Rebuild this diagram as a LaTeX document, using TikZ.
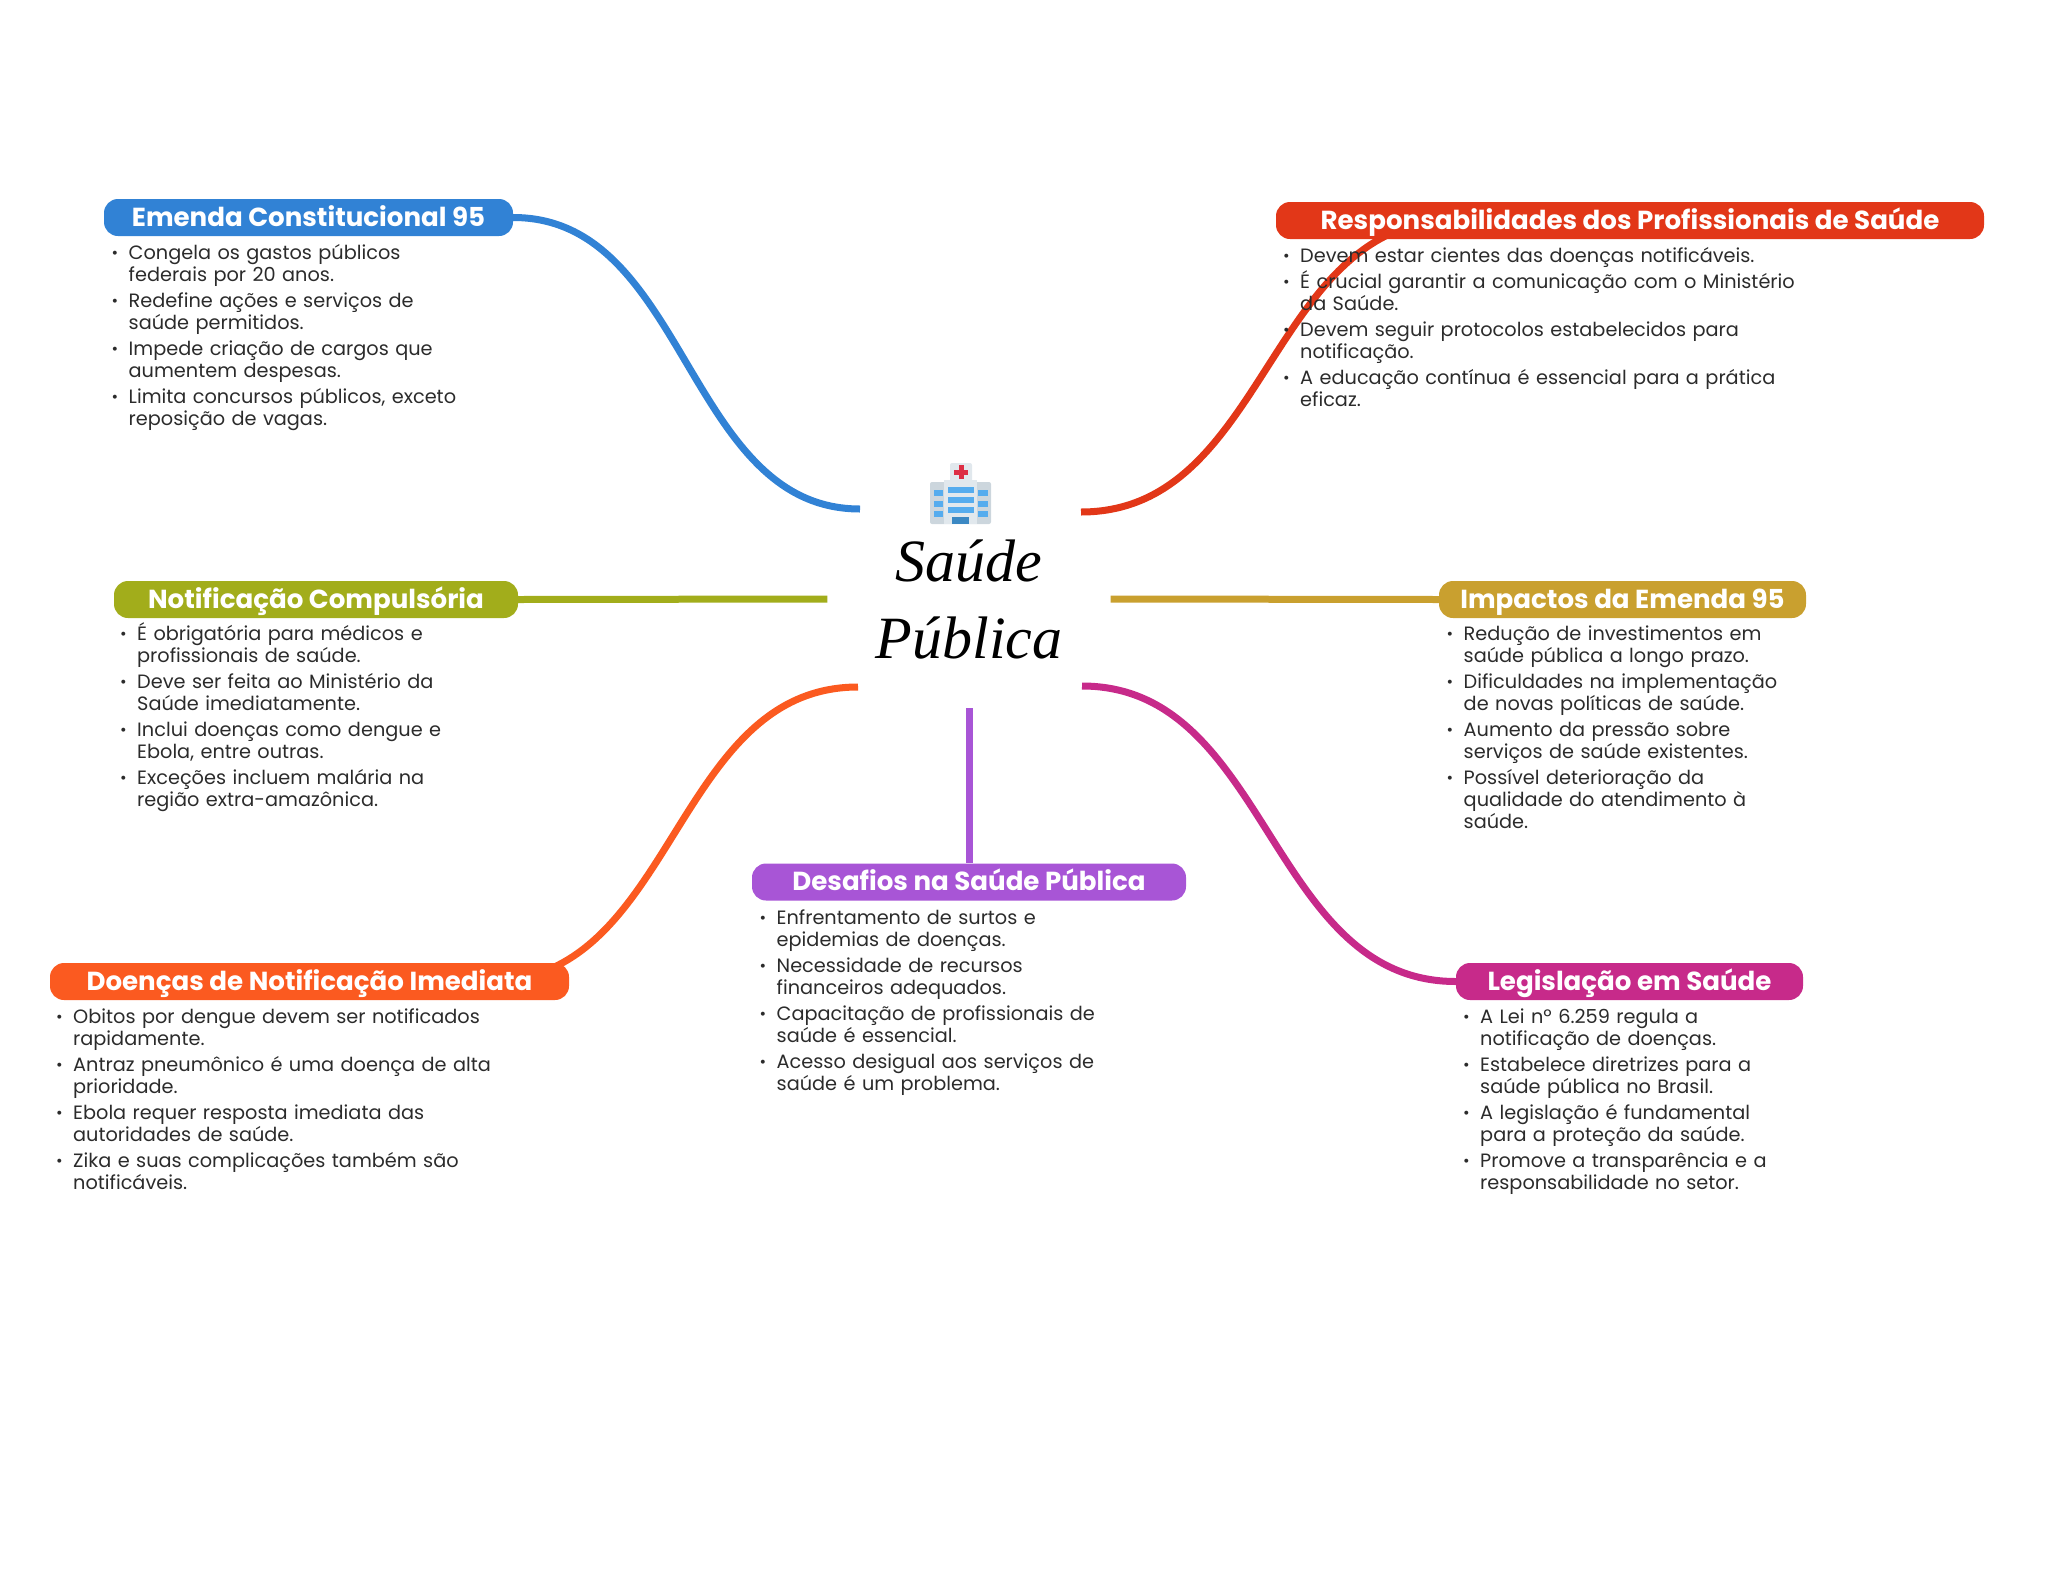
\documentclass[tikz,border=0pt]{standalone}
\usepackage{fontspec}
\setmainfont{Poppins}
\newfontfamily\titlefont{Liberation Serif}
\usetikzlibrary{backgrounds}

\definecolor{emendac}{HTML}{3182D5}
\definecolor{respc}{HTML}{E23718}
\definecolor{notifc}{HTML}{A2AD1B}
\definecolor{impactc}{HTML}{C9A02F}
\definecolor{desafc}{HTML}{A855D6}
\definecolor{doencc}{HTML}{FB5A20}
\definecolor{legisc}{HTML}{C72A8A}
\definecolor{bodyc}{HTML}{2B2B2B}
\definecolor{bldwing}{HTML}{CCD6DD}
\definecolor{bldmid}{HTML}{E1E8ED}
\definecolor{bldwin}{HTML}{55ACEE}
\definecolor{blddoor}{HTML}{3B88C3}
\definecolor{bldred}{HTML}{DD2E44}

\newcommand{\itm}[1]{\par\lineskiplimit=-20pt\relax\hangindent=17pt\hangafter=1\noindent\hbox to 17pt{\raisebox{1pt}{\fontsize{16}{16}\selectfont •}\hfil}\strut #1\par}

\tikzset{
  head/.style={fill=#1, rounded corners=14pt, text=white, inner sep=0pt, minimum height=37pt,
    text height=21pt, text depth=3.6pt, font=\fontsize{26.1}{30}\selectfont\bfseries},
  itemlist/.style={anchor=north west, inner sep=0pt, text width=620pt, text=bodyc,
    font=\fontsize{19.3}{21.6}\selectfont\setlength{\parskip}{4.8pt}},
  branch/.style={line width=7pt, #1},
  bld/.style={fill=#1, draw=none}
}

\begin{document}
\begin{tikzpicture}[x=1pt, y=-1pt]
  \useasboundingbox (0,0) rectangle (2048,1569);

  \node[minimum width=283pt, minimum height=218pt, inner sep=0pt, align=center,
    font=\fontsize{60}{77}\selectfont\titlefont\itshape] (root) at (969,599) {Saúde\\Pública};
  \coordinate (rootnw) at (860,509);
  \coordinate (rootne) at (1081,512);
  \coordinate (rootsw) at (858,687);
  \coordinate (rootse) at (1082,686);

  % hospital icon
  \fill[bld=bldmid, rounded corners=2pt] (950,463) rectangle (972,484);
  \fill[bld=bldred] (958.5,465) rectangle (963.5,479);
  \fill[bld=bldred] (954,469.5) rectangle (968,474.5);
  \fill[bld=bldwing, rounded corners=2pt] (930,482) rectangle (991,524);
  \fill[bld=bldmid] (944,480) rectangle (977,524);
  \foreach \y in {487,497,507} \fill[bld=bldwin] (948,\y) rectangle (974,\y+6);
  \foreach \y in {490,501,511} {
    \fill[bld=bldwin] (934,\y) rectangle (943,\y+6);
    \fill[bld=bldwin] (978,\y) rectangle (988,\y+6);
  }
  \fill[bld=blddoor] (952,517) rectangle (969,524);

  \node[head=emendac, minimum width=409pt] (emenda) at (308.5,217.5) {Emenda Constitucional 95};
  \node[head=respc, minimum width=708pt] (resp) at (1630,220.5) {Responsabilidades dos Profissionais de Saúde};
  \node[head=notifc, minimum width=404pt] (notif) at (316,599.5) {Notificação Compulsória};
  \node[head=impactc, minimum width=367pt] (impact) at (1622.5,599.5) {Impactos da Emenda 95};
  \node[head=desafc, minimum width=434pt] (desaf) at (969,882) {Desafios na Saúde Pública};
  \node[head=doencc, minimum width=519pt] (doenc) at (309.5,981.5) {Doenças de Notificação Imediata};
  \node[head=legisc, minimum width=347pt] (legis) at (1629.5,981.5) {Legislação em Saúde};

  \coordinate (respin) at (1455,220);
  \coordinate (doencin) at (490,981);

  \begin{scope}[on background layer]
    \draw[branch=emendac] (emenda.east) .. controls +(174,0) and +(-174,0) .. (rootnw);
    \draw[branch=respc] (rootne) .. controls +(187,0) and +(-187,0) .. (respin);
    \draw[branch=notifc] (notif.east) -- (root.west);
    \draw[branch=impactc] (root.east) -- (impact.west);
    \draw[branch=desafc] (root.south) -- (desaf.north);
    \draw[branch=doencc] (rootsw) .. controls +(-185,0) and +(185,0) .. (doencin);
    \draw[branch=legisc] (rootse) .. controls +(187,0) and +(-187,0) .. (legis.west);
  \end{scope}

  \node[itemlist] (emendalist) at (111.5,232.8) {
    \itm{Congela os gastos públicos\newline federais por 20 anos.}
    \itm{Redefine ações e serviços de\newline saúde permitidos.}
    \itm{Impede criação de cargos que\newline aumentem despesas.}
    \itm{Limita concursos públicos, exceto\newline reposição de vagas.}
  };
  \node[itemlist] (resplist) at (1283,235.8) {
    \itm{Devem estar cientes das doenças notificáveis.}
    \itm{É crucial garantir a comunicação com o Ministério\newline da Saúde.}
    \itm{Devem seguir protocolos estabelecidos para\newline notificação.}
    \itm{A educação contínua é essencial para a prática\newline eficaz.}
  };
  \node[itemlist] (notiflist) at (120,614.3) {
    \itm{É obrigatória para médicos e\newline profissionais de saúde.}
    \itm{Deve ser feita ao Ministério da\newline Saúde imediatamente.}
    \itm{Inclui doenças como dengue e\newline Ebola, entre outras.}
    \itm{Exceções incluem malária na\newline região extra-amazônica.}
  };
  \node[itemlist] (impactlist) at (1446.5,614.3) {
    \itm{Redução de investimentos em\newline saúde pública a longo prazo.}
    \itm{Dificuldades na implementação\newline de novas políticas de saúde.}
    \itm{Aumento da pressão sobre\newline serviços de saúde existentes.}
    \itm{Possível deterioração da\newline qualidade do atendimento à\newline saúde.}
  };
  \node[itemlist] (desaflist) at (759.5,897.8) {
    \itm{Enfrentamento de surtos e\newline epidemias de doenças.}
    \itm{Necessidade de recursos\newline financeiros adequados.}
    \itm{Capacitação de profissionais de\newline saúde é essencial.}
    \itm{Acesso desigual aos serviços de\newline saúde é um problema.}
  };
  \node[itemlist] (doenclist) at (56,996.8) {
    \itm{Obitos por dengue devem ser notificados\newline rapidamente.}
    \itm{Antraz pneumônico é uma doença de alta\newline prioridade.}
    \itm{Ebola requer resposta imediata das\newline autoridades de saúde.}
    \itm{Zika e suas complicações também são\newline notificáveis.}
  };
  \node[itemlist] (legislist) at (1463,996.8) {
    \itm{A Lei nº 6.259 regula a\newline notificação de doenças.}
    \itm{Estabelece diretrizes para a\newline saúde pública no Brasil.}
    \itm{A legislação é fundamental\newline para a proteção da saúde.}
    \itm{Promove a transparência e a\newline responsabilidade no setor.}
  };
\end{tikzpicture}
\end{document}
